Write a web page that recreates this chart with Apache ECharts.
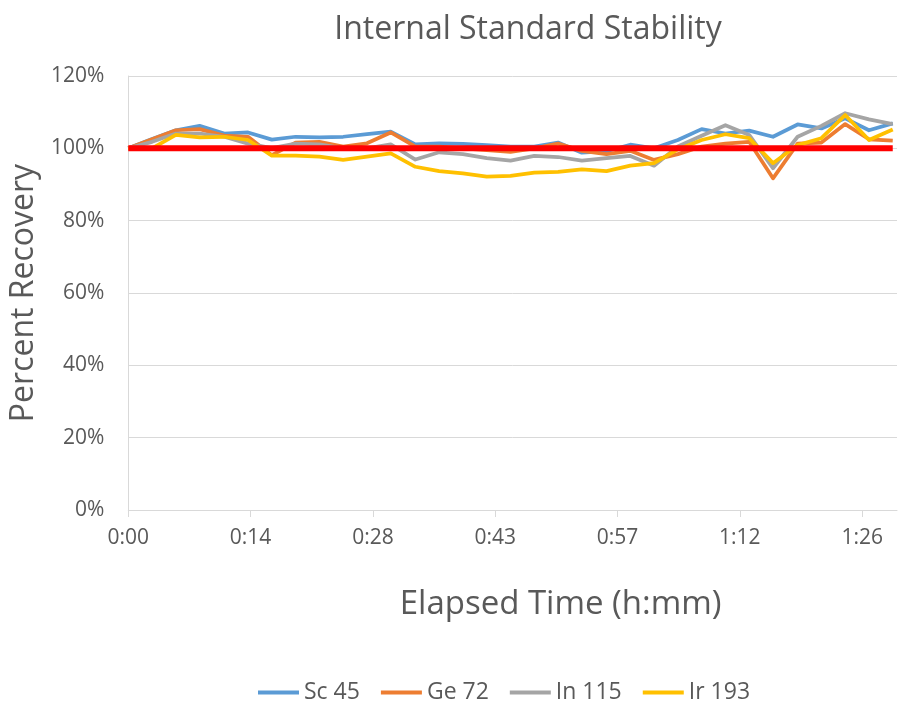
<!DOCTYPE html>
<html>
<head>
<meta charset="utf-8">
<script src="https://cdn.jsdelivr.net/npm/echarts@6/dist/echarts.min.js"></script>
<style>html,body{margin:0;padding:0;background:#fff}#c{width:899px;height:705px}</style>
</head>
<body>
<div id="c"></div>
<script>
// elapsed time of each sample, minutes
var times = [0,2.8,5.6,8.4,11.3,14.1,16.9,19.7,22.5,25.3,28.1,30.9,33.8,36.6,39.4,42.2,45,47.8,50.6,53.4,56.3,59.1,61.9,64.7,67.5,70.3,73.1,75.9,78.8,81.6,84.4,87.2,90];
var sc45  = [100,102.6,105,106.2,104.1,104.4,102.4,103.2,103.0,103.2,103.9,104.6,101.1,101.4,101.2,100.9,100.5,100.5,101.6,98.8,99.2,101.0,100,102.3,105.3,104.1,104.9,103.2,106.6,105.5,108.3,105,106.9];
var ge72  = [100,102.5,105,105.3,103.5,103.2,98.1,101.6,101.8,100.5,101.4,104.4,100.5,100.5,100,99.5,99,100,101.3,99.3,98.4,99.3,96.8,98.4,100.5,101.3,101.8,91.7,101.3,101.6,106.7,102.5,102.1];
var in115 = [100,101.8,104.1,104.1,103.2,101.3,100.1,101.3,101.1,100,100,101.1,96.9,98.9,98.4,97.3,96.6,97.9,97.6,96.6,97.3,97.9,95.2,100.5,103.5,106.4,103.7,94.5,103.2,106.2,109.7,108,106.7];
var ir193 = [100,100,103.7,103,103.2,102.3,98,98,97.7,96.8,97.7,98.6,94.9,93.7,93.1,92.2,92.4,93.3,93.5,94.2,93.7,95.2,95.9,99.7,102.3,103.9,102.8,95.9,100.9,102.8,109.2,102.3,105.2];
var target = [100,100,100,100,100,100,100,100,100,100,100,100,100,100,100,100,100,100,100,100,100,100,100,100,100,100,100,100,100,100,100,100,100];
var seriesNames = ['Sc 45','Ge 72','In 115','Ir 193'];
var yTicks = [0,20,40,60,80,100,120];

function pairs(vals){ return times.map(function(t,i){ return [t, vals[i]]; }); }
function fmtTime(v){
  var m = Math.floor(v + 1e-6);
  var h = Math.floor(m/60), mm = m % 60;
  return h + ':' + (mm < 10 ? '0' : '') + mm;
}
var FONT = 'Open Sans';
var GREY = '#595959';
var chart = echarts.init(document.getElementById('c'));
var colors = ['#5B9BD5','#ED7D31','#A5A5A5','#FFC000'];
var dataSets = [sc45, ge72, in115, ir193];
var series = dataSets.map(function(d,i){
  return { name: seriesNames[i], type:'line', data: pairs(d), symbol:'none',
    lineStyle:{ width:3.75, color: colors[i], join:'round' }, itemStyle:{color:colors[i]}, z: 2+i };
});
series.push({ name:'Target', type:'line', data: pairs(target), symbol:'none',
  lineStyle:{ width:6, color:'#FF0000' }, itemStyle:{color:'#FF0000'}, z: 10 });

chart.setOption({
  animation:false,
  textStyle:{ fontFamily: FONT },
  title:{ text:'Internal Standard Stability', left:523, top:9, textAlign:'center',
    textStyle:{ fontFamily:FONT, fontSize:32, fontWeight:'normal', color:GREY } },
  legend:{ data: seriesNames, top:676, left:253, icon:'rect', itemWidth:41, itemHeight:4, itemGap:21,
    textStyle:{ fontFamily:FONT, fontSize:23, color:GREY } },
  grid:{ left:128, right:2, top:76, bottom:195, containLabel:false },
  xAxis:{ type:'value', min:0, max:90.5, interval:14.4,
    name:'Elapsed Time (h:mm)', nameLocation:'middle', nameGap:78,
    nameTextStyle:{ fontFamily:FONT, fontSize:33, color:GREY, padding:[0,0,0,96] },
    axisLine:{ show:true, lineStyle:{ color:'#D9D9D9', width:1 } },
    axisTick:{ show:true, length:7, lineStyle:{ color:'#D9D9D9' } },
    axisLabel:{ formatter: fmtTime, showMaxLabel:false, fontFamily:FONT, fontSize:21, color:GREY, margin:18 },
    splitLine:{ show:false } },
  yAxis:{ type:'value', min:yTicks[0], max:yTicks[yTicks.length-1], interval:20,
    name:'Percent Recovery', nameLocation:'middle', nameGap:74,
    nameTextStyle:{ fontFamily:FONT, fontSize:32, color:GREY },
    axisLine:{ show:true, lineStyle:{ color:'#D9D9D9', width:1 } },
    axisTick:{ show:false },
    axisLabel:{ formatter:'{value}%', fontFamily:FONT, fontSize:21, color:GREY, margin:24 },
    splitLine:{ show:true, lineStyle:{ color:'#D9D9D9', width:1 } } },
  series: series
});
</script>
</body>
</html>
